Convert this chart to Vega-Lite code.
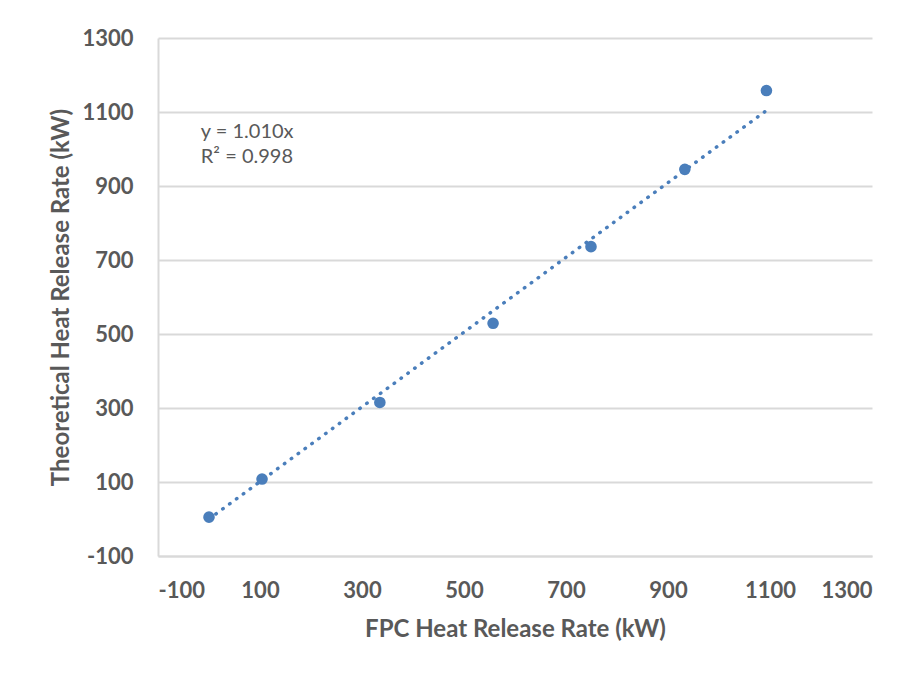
{
  "$schema": "https://vega.github.io/schema/vega-lite/v6.json",
  "width": 714,
  "height": 518,
  "autosize": {"type": "none"},
  "padding": {"left": 158, "top": 38, "right": 44, "bottom": 119},
  "background": "white",
  "config": {
    "view": {"stroke": null},
    "font": "Lato",
    "axis": {
      "labelFont": "Lato",
      "labelFontSize": 22,
      "labelFontWeight": "bold",
      "labelColor": "#595959",
      "labelExpr": "'' + datum.value",
      "titleFont": "Lato",
      "titleFontSize": 24,
      "titleFontWeight": "bold",
      "titleColor": "#595959",
      "ticks": false,
      "tickSize": 0,
      "domainColor": "#D9D9D9",
      "domainWidth": 2,
      "gridColor": "#D9D9D9",
      "gridWidth": 2
    }
  },
  "datasets": {
    "points": [
      {"fpc": 0, "theo": 5},
      {"fpc": 104, "theo": 108},
      {"fpc": 335, "theo": 315},
      {"fpc": 557, "theo": 529},
      {"fpc": 749, "theo": 736},
      {"fpc": 933, "theo": 945},
      {"fpc": 1093, "theo": 1158}
    ],
    "trend": [
      {"fpc": 0, "theo": 0},
      {"fpc": 1093, "theo": 1104}
    ]
  },
  "layer": [
    {
      "data": {"name": "trend"},
      "mark": {"type": "line", "color": "#4A7EBB", "strokeWidth": 3.5, "strokeDash": [0.5, 8], "strokeCap": "round"},
      "encoding": {
        "x": {"field": "fpc", "type": "quantitative", "scale": {"domain": [-100, 1300], "nice": false, "zero": false},
          "axis": {"values": [-100, 100, 300, 500, 700, 900, 1100, 1300], "grid": false, "labelPadding": 24, "titlePadding": 16, "title": "FPC Heat Release Rate (kW)"}},
        "y": {"field": "theo", "type": "quantitative", "scale": {"domain": [-100, 1300], "nice": false, "zero": false},
          "axis": {"values": [-100, 100, 300, 500, 700, 900, 1100, 1300], "grid": true, "labelPadding": 25, "titlePadding": 8, "title": "Theoretical Heat Release Rate (kW)"}}
      }
    },
    {
      "data": {"name": "points"},
      "mark": {"type": "circle", "size": 135, "color": "#4A7EBB", "opacity": 1},
      "encoding": {
        "x": {"field": "fpc", "type": "quantitative"},
        "y": {"field": "theo", "type": "quantitative"}
      }
    },
    {
      "data": {"values": [{}]},
      "mark": {"type": "text", "align": "left", "baseline": "middle", "font": "Lato", "fontSize": 20, "color": "#595959", "lineHeight": 25},
      "encoding": {
        "x": {"datum": -16},
        "y": {"datum": 1045},
        "text": {"value": ["y = 1.010x", "R² = 0.998"]}
      }
    }
  ]
}
